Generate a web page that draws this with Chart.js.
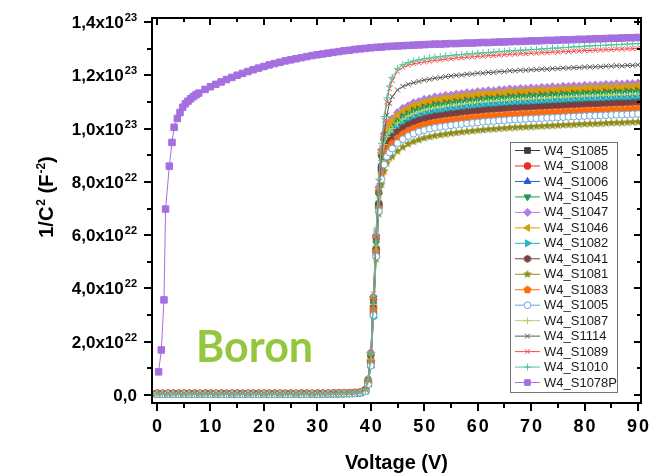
<!DOCTYPE html>
<html>
<head>
<meta charset="utf-8">
<script src="https://cdn.jsdelivr.net/npm/chart.js@4.4.1/dist/chart.umd.min.js"></script>
<style>
  html, body { margin: 0; padding: 0; background: #fff; }
  #wrap { position: relative; width: 656px; height: 473px; }
</style>
</head>
<body>
<div id="wrap"><canvas id="cvChart"></canvas></div>
<script>
// ============ C-V DATA (1/C^2 in units of 1e22 F^-2) ============
const voltage = [0,1,2,3,4,5,6,7,8,9,10,11,12,13,14,15,16,17,18,19,
  20,21,22,23,24,25,26,27,28,29,30,31,32,33,34,35,36,37,38,39,
  39.5,40,40.5,41,41.5,42,42.5,43,43.5,
  44,45,46,47,48,49,50,51,52,53,54,55,56,57,58,59,60,61,62,63,64,65,66,67,
  68,69,70,71,72,73,74,75,76,77,78,79,80,81,82,83,84,85,86,87,88,89,90];

const voltageP = [0.3,0.8,1.3,1.6,2.3,2.8,3.2,3.8,4.3,4.8,5.3,5.8,6.3,6.8,7.3,7.8,
  9,10,11,12,13,14,15,16,17,18,19,20,
  21,22,23,24,25,26,27,28,29,30,31,32,33,34,35,36,37,38,39,40,
  41,42,43,44,45,46,47,48,49,50,51,52,53,54,55,56,57,58,59,60,
  61,62,63,64,65,66,67,68,69,70,71,72,73,74,75,76,77,78,79,80,81,82,83,84,85,86,87,88,89,90];

const s1085 = [0.05,0.04,0.05,0.05,0.04,0.05,0.04,0.05,0.05,0.04,0.05,0.04,0.05,0.05,0.04,0.05,0.04,0.05,0.05,0.04,
  0.05,0.04,0.05,0.05,0.04,0.05,0.05,0.04,0.05,0.05,0.04,0.05,0.05,0.05,0.06,0.06,0.06,0.07,0.09,0.16,
  0.45,1.2,3.1,5.4,7.1,8.5,9.1,9.4,9.6,
  9.76,9.95,10.1,10.23,10.3,10.39,10.43,10.5,10.52,10.57,10.58,10.63,10.63,10.68,10.68,10.72,10.72,10.76,10.76,10.79,10.79,10.82,10.82,10.85,
  10.84,10.87,10.86,10.89,10.89,10.91,10.91,10.93,10.93,10.95,10.95,10.97,10.96,10.99,10.98,11.0,11.0,11.02,11.01,11.03,11.03,11.05,11.05];
const s1008 = [0.06,0.05,0.06,0.05,0.06,0.06,0.05,0.06,0.05,0.06,0.06,0.05,0.06,0.05,0.06,0.06,0.05,0.06,0.05,0.06,
  0.06,0.05,0.06,0.06,0.05,0.06,0.05,0.06,0.06,0.05,0.06,0.06,0.06,0.07,0.07,0.07,0.08,0.09,0.11,0.2,
  0.55,1.5,3.6,5.9,7.6,9.0,9.6,9.95,10.12,
  10.25,10.46,10.6,10.73,10.8,10.9,10.93,11.0,11.02,11.07,11.08,11.13,11.13,11.18,11.2,11.21,11.24,11.25,11.28,11.28,11.31,11.31,11.34,11.34,
  11.36,11.36,11.38,11.38,11.4,11.4,11.42,11.42,11.44,11.44,11.46,11.46,11.48,11.48,11.49,11.49,11.51,11.51,11.53,11.52,11.54,11.54,11.56];
const s1006 = [0.03,0.04,0.03,0.03,0.04,0.03,0.03,0.04,0.03,0.03,0.04,0.03,0.03,0.04,0.03,0.03,0.04,0.03,0.03,0.04,
  0.03,0.03,0.04,0.03,0.03,0.04,0.03,0.03,0.04,0.03,0.03,0.04,0.04,0.04,0.05,0.05,0.06,0.06,0.08,0.13,
  0.4,1.1,3.0,5.3,7.2,8.7,9.3,9.6,9.8,
  9.9,10.1,10.26,10.36,10.47,10.52,10.6,10.63,10.69,10.7,10.75,10.76,10.8,10.81,10.85,10.86,10.89,10.9,10.93,10.93,10.96,10.96,10.99,10.99,
  11.01,11.01,11.03,11.03,11.05,11.05,11.07,11.07,11.09,11.09,11.11,11.11,11.13,11.13,11.14,11.14,11.16,11.16,11.18,11.17,11.19,11.19,11.21];
const s1045 = [0.04,0.05,0.04,0.04,0.05,0.04,0.04,0.05,0.04,0.04,0.05,0.04,0.04,0.05,0.04,0.04,0.05,0.04,0.04,0.05,
  0.04,0.04,0.05,0.04,0.04,0.05,0.04,0.04,0.05,0.04,0.04,0.05,0.05,0.05,0.06,0.06,0.07,0.08,0.1,0.18,
  0.5,1.4,3.4,5.7,7.5,8.9,9.5,9.85,10.0,
  10.1,10.3,10.46,10.56,10.67,10.72,10.8,10.83,10.89,10.9,10.95,10.96,11.0,11.01,11.05,11.06,11.09,11.1,11.13,11.13,11.16,11.16,11.19,11.19,
  11.21,11.21,11.23,11.23,11.25,11.25,11.27,11.27,11.29,11.29,11.31,11.31,11.33,11.33,11.34,11.34,11.36,11.36,11.38,11.37,11.39,11.39,11.41];
const s1047 = [0.05,0.06,0.05,0.05,0.06,0.05,0.05,0.06,0.05,0.05,0.06,0.05,0.05,0.06,0.05,0.05,0.06,0.05,0.05,0.06,
  0.05,0.05,0.06,0.05,0.05,0.06,0.05,0.05,0.06,0.05,0.05,0.06,0.06,0.06,0.07,0.07,0.08,0.09,0.11,0.2,
  0.6,1.6,3.7,6.0,7.8,9.2,9.8,10.1,10.25,
  10.38,10.6,10.76,10.86,10.97,11.02,11.1,11.13,11.19,11.2,11.25,11.26,11.3,11.31,11.35,11.35,11.39,11.4,11.43,11.42,11.46,11.46,11.49,11.48,
  11.51,11.5,11.53,11.52,11.55,11.55,11.57,11.56,11.59,11.59,11.61,11.6,11.63,11.62,11.64,11.64,11.66,11.65,11.68,11.67,11.69,11.69,11.71];
const s1046 = [0.07,0.06,0.07,0.06,0.07,0.07,0.06,0.07,0.06,0.07,0.07,0.06,0.07,0.06,0.07,0.07,0.06,0.07,0.06,0.07,
  0.07,0.06,0.07,0.07,0.06,0.07,0.06,0.07,0.07,0.06,0.07,0.07,0.07,0.08,0.08,0.08,0.09,0.1,0.12,0.22,
  0.58,1.55,3.65,5.95,7.7,9.1,9.7,10.0,10.2,
  10.32,10.5,10.67,10.76,10.88,10.92,11.01,11.03,11.1,11.1,11.16,11.16,11.21,11.21,11.26,11.25,11.3,11.3,11.34,11.32,11.37,11.35,11.4,11.38,
  11.42,11.4,11.44,11.42,11.46,11.44,11.48,11.46,11.5,11.48,11.52,11.5,11.54,11.52,11.55,11.53,11.57,11.55,11.59,11.56,11.6,11.58,11.62];
const s1082 = [0.02,0.03,0.02,0.02,0.03,0.02,0.02,0.03,0.02,0.02,0.03,0.02,0.02,0.03,0.02,0.02,0.03,0.02,0.02,0.03,
  0.02,0.02,0.03,0.02,0.02,0.03,0.02,0.02,0.03,0.02,0.02,0.03,0.03,0.03,0.04,0.04,0.05,0.05,0.07,0.12,
  0.38,1.05,2.9,5.2,7.1,8.6,9.25,9.55,9.75,
  9.85,10.05,10.21,10.31,10.42,10.47,10.55,10.58,10.64,10.65,10.7,10.71,10.75,10.76,10.8,10.81,10.84,10.85,10.88,10.88,10.91,10.91,10.94,10.94,
  10.96,10.96,10.98,10.98,11.0,11.0,11.02,11.02,11.04,11.04,11.06,11.06,11.08,11.08,11.09,11.09,11.11,11.11,11.13,11.12,11.14,11.14,11.16];
const s1041 = [0.06,0.05,0.05,0.06,0.05,0.05,0.06,0.05,0.05,0.06,0.05,0.05,0.06,0.05,0.05,0.06,0.05,0.05,0.06,0.05,
  0.05,0.06,0.05,0.05,0.06,0.05,0.05,0.06,0.05,0.05,0.06,0.05,0.06,0.06,0.06,0.07,0.07,0.08,0.1,0.17,
  0.48,1.3,3.3,5.5,7.2,8.5,9.05,9.35,9.55,
  9.68,9.88,10.03,10.15,10.24,10.31,10.37,10.42,10.46,10.49,10.52,10.55,10.57,10.6,10.62,10.64,10.66,10.68,10.7,10.71,10.73,10.74,10.76,10.77,
  10.78,10.79,10.8,10.81,10.82,10.83,10.84,10.85,10.86,10.87,10.88,10.89,10.9,10.91,10.91,10.92,10.93,10.94,10.95,10.95,10.96,10.97,10.98];
const s1081 = [0.04,0.04,0.05,0.04,0.04,0.05,0.04,0.04,0.05,0.04,0.04,0.05,0.04,0.04,0.05,0.04,0.04,0.05,0.04,0.04,
  0.05,0.04,0.04,0.05,0.04,0.04,0.05,0.04,0.04,0.05,0.04,0.05,0.05,0.05,0.06,0.06,0.06,0.07,0.09,0.15,
  0.42,1.15,3.0,5.1,6.8,7.9,8.4,8.7,8.9,
  8.95,9.15,9.3,9.42,9.51,9.58,9.64,9.69,9.73,9.76,9.79,9.82,9.84,9.87,9.89,9.91,9.93,9.95,9.97,9.98,10.0,10.01,10.03,10.04,
  10.05,10.06,10.07,10.08,10.09,10.1,10.11,10.12,10.13,10.14,10.15,10.16,10.17,10.18,10.18,10.19,10.2,10.21,10.22,10.22,10.23,10.24,10.25];
const s1083 = [0.05,0.05,0.06,0.05,0.05,0.06,0.05,0.05,0.06,0.05,0.05,0.06,0.05,0.05,0.06,0.05,0.05,0.06,0.05,0.05,
  0.06,0.05,0.05,0.06,0.05,0.05,0.06,0.05,0.05,0.06,0.05,0.06,0.06,0.06,0.07,0.07,0.07,0.08,0.1,0.17,
  0.46,1.25,3.2,5.4,7.0,8.3,8.85,9.15,9.3,
  9.45,9.65,9.8,9.92,10.01,10.08,10.14,10.19,10.23,10.26,10.29,10.32,10.34,10.37,10.39,10.41,10.43,10.45,10.47,10.48,10.5,10.51,10.53,10.54,
  10.55,10.56,10.57,10.58,10.59,10.6,10.61,10.62,10.63,10.64,10.65,10.66,10.67,10.68,10.68,10.69,10.7,10.71,10.72,10.72,10.73,10.74,10.75];
const s1005 = [0.03,0.03,0.04,0.03,0.03,0.04,0.03,0.03,0.04,0.03,0.03,0.04,0.03,0.03,0.04,0.03,0.03,0.04,0.03,0.03,
  0.04,0.03,0.03,0.04,0.03,0.03,0.04,0.03,0.03,0.04,0.03,0.04,0.04,0.04,0.05,0.05,0.05,0.06,0.08,0.14,
  0.4,1.1,3.0,5.2,6.9,8.1,8.65,8.95,9.1,
  9.25,9.45,9.6,9.72,9.81,9.88,9.94,9.99,10.03,10.06,10.09,10.12,10.14,10.17,10.19,10.21,10.23,10.25,10.27,10.28,10.3,10.31,10.33,10.34,
  10.35,10.36,10.37,10.38,10.39,10.4,10.41,10.42,10.43,10.44,10.45,10.46,10.47,10.48,10.48,10.49,10.5,10.51,10.52,10.52,10.53,10.54,10.55];
const s1087 = [0.05,0.05,0.05,0.06,0.05,0.05,0.05,0.06,0.05,0.05,0.05,0.06,0.05,0.05,0.05,0.06,0.05,0.05,0.05,0.06,
  0.05,0.05,0.05,0.06,0.05,0.05,0.05,0.06,0.05,0.05,0.05,0.06,0.06,0.06,0.06,0.07,0.07,0.08,0.1,0.18,
  0.5,1.35,3.4,5.6,7.4,8.8,9.4,9.7,9.9,
  10.0,10.2,10.35,10.47,10.56,10.63,10.69,10.74,10.78,10.81,10.84,10.87,10.89,10.92,10.94,10.96,10.98,11.0,11.02,11.03,11.05,11.06,11.08,11.09,
  11.1,11.11,11.12,11.13,11.14,11.15,11.16,11.17,11.18,11.19,11.2,11.21,11.22,11.23,11.23,11.24,11.25,11.26,11.27,11.27,11.28,11.29,11.3];
const s1114 = [0.06,0.06,0.05,0.06,0.06,0.05,0.06,0.06,0.05,0.06,0.06,0.05,0.06,0.06,0.05,0.06,0.06,0.05,0.06,0.06,
  0.05,0.06,0.06,0.05,0.06,0.06,0.05,0.06,0.06,0.05,0.06,0.06,0.06,0.07,0.07,0.07,0.08,0.09,0.11,0.2,
  0.55,1.5,3.6,5.9,7.6,8.9,9.8,10.5,10.95,
  11.2,11.45,11.58,11.66,11.72,11.77,11.82,11.85,11.89,11.91,11.95,11.97,12.0,12.01,12.04,12.05,12.08,12.08,12.11,12.11,12.14,12.14,12.17,12.17,
  12.19,12.19,12.21,12.21,12.23,12.23,12.25,12.25,12.27,12.27,12.29,12.29,12.31,12.31,12.32,12.32,12.34,12.34,12.36,12.35,12.37,12.37,12.39];
const s1089 = [0.07,0.07,0.06,0.07,0.07,0.06,0.07,0.07,0.06,0.07,0.07,0.06,0.07,0.07,0.06,0.07,0.07,0.06,0.07,0.07,
  0.06,0.07,0.07,0.06,0.07,0.07,0.06,0.07,0.07,0.06,0.07,0.07,0.07,0.08,0.08,0.08,0.09,0.1,0.12,0.22,
  0.6,1.6,3.8,6.2,8.0,9.3,10.3,11.0,11.5,
  11.8,12.15,12.3,12.38,12.43,12.47,12.5,12.53,12.56,12.58,12.61,12.62,12.65,12.66,12.68,12.69,12.71,12.72,12.74,12.74,12.76,12.77,12.79,12.79,
  12.81,12.81,12.83,12.83,12.85,12.85,12.87,12.87,12.89,12.89,12.91,12.91,12.93,12.93,12.94,12.95,12.96,12.96,12.98,12.98,12.99,13.0,13.01];
const s1010 = [0.04,0.04,0.04,0.05,0.04,0.04,0.04,0.05,0.04,0.04,0.04,0.05,0.04,0.04,0.04,0.05,0.04,0.04,0.04,0.05,
  0.04,0.04,0.04,0.05,0.04,0.04,0.04,0.05,0.04,0.04,0.04,0.05,0.05,0.05,0.06,0.06,0.07,0.08,0.1,0.2,
  0.58,1.55,3.75,6.2,8.1,9.45,10.45,11.15,11.6,
  11.92,12.25,12.4,12.48,12.54,12.58,12.62,12.65,12.68,12.7,12.73,12.74,12.77,12.78,12.8,12.81,12.83,12.84,12.86,12.87,12.89,12.9,12.92,12.92,
  12.94,12.95,12.97,12.97,12.99,13.0,13.02,13.02,13.04,13.05,13.07,13.07,13.09,13.1,13.11,13.12,13.13,13.14,13.15,13.16,13.17,13.18,13.19];
const s1078P = [0.87,1.69,3.57,6.98,8.59,9.48,10.05,10.38,10.6,10.8,10.93,11.03,11.12,11.2,11.27,11.33,
  11.47,11.57,11.66,11.75,11.84,11.92,12.0,12.07,12.14,12.21,12.27,12.33,
  12.39,12.44,12.49,12.54,12.58,12.62,12.66,12.7,12.74,12.77,12.8,12.83,12.86,12.89,12.92,12.94,12.97,12.99,13.01,13.03,
  13.05,13.06,13.08,13.09,13.1,13.11,13.12,13.13,13.14,13.15,13.16,13.17,13.17,13.18,13.19,13.19,13.2,13.21,13.21,13.22,
  13.23,13.23,13.24,13.25,13.25,13.26,13.27,13.27,13.28,13.29,13.29,13.3,13.31,13.31,13.32,13.33,13.33,13.34,13.35,13.35,13.36,13.37,13.37,13.38,13.39,13.39,13.4,13.41,13.41,13.42];

const sampleNames = ['W4_S1085','W4_S1008','W4_S1006','W4_S1045','W4_S1047','W4_S1046','W4_S1082','W4_S1041',
  'W4_S1081','W4_S1083','W4_S1005','W4_S1087','W4_S1114','W4_S1089','W4_S1010','W4_S1078P'];
const sampleValues = [s1085,s1008,s1006,s1045,s1047,s1046,s1082,s1041,s1081,s1083,s1005,s1087,s1114,s1089,s1010,s1078P];

// axis ticks / labels
const xMajorTicks = [0,10,20,30,40,50,60,70,80,90];
const xMinorTicks = [5,15,25,35,45,55,65,75,85];
const xTickLabels = ['0','10','20','30','40','50','60','70','80','90'];
const yMajorTicks = [0,2,4,6,8,10,12,14];
const yMinorTicks = [1,3,5,7,9,11,13];
const yTickMantissa = ['0,0','2,0x10','4,0x10','6,0x10','8,0x10','1,0x10','1,2x10','1,4x10'];
const yTickExponent = ['','22','22','22','22','23','23','23'];
const xTitle = 'Voltage (V)';
const yTitleParts = [['1/C', false], ['2', true], [' (F', false], ['-2', true], [')', false]];
const annotationText = 'Boron';

// ============ STYLES ============
function shapeMarker(color, r, sides, inner) {
  const c = document.createElement('canvas');
  const s = Math.ceil(r * 2 + 2);
  c.width = s; c.height = s;
  const g = c.getContext('2d');
  const n = inner ? sides * 2 : sides;
  g.beginPath();
  for (let k = 0; k < n; k++) {
    const ang = -Math.PI / 2 + k * Math.PI * 2 / n;
    const rr = inner && k % 2 ? r * inner : r;
    const px = s / 2 + rr * Math.cos(ang), py = s / 2 + rr * Math.sin(ang);
    if (k) g.lineTo(px, py); else g.moveTo(px, py);
  }
  g.closePath();
  g.fillStyle = color;
  g.fill();
  return c;
}

const seriesColors = ['#3d3d3d','#e8302a','#2a5bd7','#1f9b55','#b07fe6','#d4a20a','#1fb7c9','#7b3f3f',
  '#8c8c1e','#ff6a0a','#6aa6e0','#b5d36b','#5a5a5a','#ff4a4a','#4cc79a','#a66fe0'];
const markerDefs = [
  { style: 'rect', r: 4.4 },
  { style: 'circle', r: 3.4 },
  { style: 'triangle', r: 4 },
  { style: 'triangle', r: 4, rot: 180 },
  { style: 'rectRot', r: 4 },
  { style: 'triangle', r: 4, rot: 270 },
  { style: 'triangle', r: 4, rot: 90 },
  { style: shapeMarker('#7b3f3f', 4, 6), r: 4 },
  { style: shapeMarker('#8c8c1e', 4.6, 5, 0.45), r: 4.6 },
  { style: shapeMarker('#ff6a0a', 4.3, 5), r: 4.3 },
  { style: 'circle', r: 3.4, hollow: true },
  { style: 'cross', r: 3.5 },
  { style: 'crossRot', r: 3.5 },
  { style: 'crossRot', r: 3.5 },
  { style: 'cross', r: 3.5 },
  { style: 'rect', r: 4.6 }
];

const datasets = sampleNames.map((name, i) => {
  const xs = name === 'W4_S1078P' ? voltageP : voltage;
  const m = markerDefs[i];
  return {
    label: name,
    data: sampleValues[i].map((v, k) => ({ x: xs[k], y: v })),
    showLine: true,
    borderColor: seriesColors[i],
    backgroundColor: seriesColors[i],
    borderWidth: 1,
    pointStyle: m.style,
    pointRotation: m.rot || 0,
    pointRadius: m.r,
    pointBorderWidth: 1,
    pointBorderColor: seriesColors[i],
    pointBackgroundColor: m.hollow ? '#ffffff' : seriesColors[i],
    order: sampleNames.length - i
  };
});

// ============ FRAME, TICKS, TEXT, LEGEND ============
const decorations = {
  id: 'decorations',
  afterDatasetsDraw(chart) {
    const { ctx, chartArea: a, scales: { x, y } } = chart;
    ctx.save();
    ctx.strokeStyle = '#000';
    ctx.fillStyle = '#000';

    // frame
    ctx.lineWidth = 2;
    ctx.strokeRect(a.left, a.top, a.right - a.left, a.bottom - a.top);

    // ticks
    ctx.beginPath();
    xMajorTicks.forEach(v => {
      const px = Math.round(x.getPixelForValue(v));
      ctx.moveTo(px, a.bottom); ctx.lineTo(px, a.bottom + 8);
      ctx.moveTo(px, a.top); ctx.lineTo(px, a.top + 7);
    });
    xMinorTicks.forEach(v => {
      const px = Math.round(x.getPixelForValue(v));
      ctx.moveTo(px, a.bottom); ctx.lineTo(px, a.bottom + 5);
      ctx.moveTo(px, a.top); ctx.lineTo(px, a.top + 4);
    });
    yMajorTicks.forEach(v => {
      const py = Math.round(y.getPixelForValue(v));
      ctx.moveTo(a.left - 8, py); ctx.lineTo(a.left, py);
      ctx.moveTo(a.right - 7, py); ctx.lineTo(a.right, py);
    });
    yMinorTicks.forEach(v => {
      const py = Math.round(y.getPixelForValue(v));
      ctx.moveTo(a.left - 5, py); ctx.lineTo(a.left, py);
      ctx.moveTo(a.right - 4, py); ctx.lineTo(a.right, py);
    });
    ctx.stroke();

    // x tick labels
    ctx.font = 'bold 18px "Liberation Sans", Arial, sans-serif';
    ctx.textAlign = 'center';
    ctx.textBaseline = 'alphabetic';
    if ('letterSpacing' in ctx) ctx.letterSpacing = '2px';
    xMajorTicks.forEach((v, i) => {
      ctx.fillText(xTickLabels[i], x.getPixelForValue(v) + 1, 432);
    });
    if ('letterSpacing' in ctx) ctx.letterSpacing = '0px';

    // y tick labels with superscript exponent
    const rightEdge = 137;
    ctx.textAlign = 'left';
    yMajorTicks.forEach((v, i) => {
      const py = y.getPixelForValue(v);
      ctx.font = 'bold 11px "Liberation Sans", Arial, sans-serif';
      const ew = yTickExponent[i] ? ctx.measureText(yTickExponent[i]).width + 1 : 0;
      ctx.font = 'bold 17px "Liberation Sans", Arial, sans-serif';
      const mw = ctx.measureText(yTickMantissa[i]).width;
      ctx.fillText(yTickMantissa[i], rightEdge - ew - mw, py + 6);
      if (yTickExponent[i]) {
        ctx.font = 'bold 11px "Liberation Sans", Arial, sans-serif';
        ctx.fillText(yTickExponent[i], rightEdge - ew + 1, py - 1);
      }
    });

    // x title
    ctx.font = 'bold 20px "Liberation Sans", Arial, sans-serif';
    ctx.textAlign = 'center';
    ctx.fillText(xTitle, (a.left + a.right) / 2, 469);

    // y title (rotated, with superscripts)
    ctx.save();
    ctx.translate(53, 197);
    ctx.rotate(-Math.PI / 2);
    ctx.textAlign = 'left';
    const bigF = 'bold 20px "Liberation Sans", Arial, sans-serif';
    const supF = 'bold 12px "Liberation Sans", Arial, sans-serif';
    let total = 0;
    yTitleParts.forEach(([t, sup]) => { ctx.font = sup ? supF : bigF; total += ctx.measureText(t).width + (sup ? 1 : 0); });
    let cx = -total / 2;
    yTitleParts.forEach(([t, sup]) => {
      ctx.font = sup ? supF : bigF;
      ctx.fillText(t, cx + (sup ? 1 : 0), sup ? -8 : 0);
      cx += ctx.measureText(t).width + (sup ? 1 : 0);
    });
    ctx.restore();

    // annotation
    ctx.font = 'bold 43px Lato, "Liberation Sans", sans-serif';
    ctx.fillStyle = '#94c73d';
    ctx.textAlign = 'left';
    ctx.fillText(annotationText, 196, 362);

    // legend box
    const lg = { left: 510, top: 142, right: 617, bottom: 392, first: 150.5, step: 15.47 };
    ctx.fillStyle = '#ffffff';
    ctx.fillRect(lg.left, lg.top, lg.right - lg.left, lg.bottom - lg.top);
    ctx.strokeStyle = '#777';
    ctx.lineWidth = 1;
    ctx.strokeRect(lg.left + 0.5, lg.top + 0.5, lg.right - lg.left, lg.bottom - lg.top);
    ctx.font = '13px "Liberation Sans", Arial, sans-serif';
    ctx.textBaseline = 'middle';
    chart.data.datasets.forEach((ds, i) => {
      const ly = lg.first + i * lg.step;
      ctx.strokeStyle = ds.borderColor;
      ctx.lineWidth = 1;
      ctx.beginPath();
      ctx.moveTo(515, ly); ctx.lineTo(540, ly);
      ctx.stroke();
      ctx.fillStyle = ds.pointBackgroundColor;
      ctx.strokeStyle = ds.pointBorderColor;
      if (Chart.helpers && Chart.helpers.drawPoint) {
        Chart.helpers.drawPoint(ctx, { pointStyle: ds.pointStyle, rotation: ds.pointRotation, radius: Math.min(ds.pointRadius, 4), borderWidth: 1 }, 527.5, ly);
      }
      ctx.fillStyle = '#1a1a1a';
      ctx.fillText(ds.label, 544, ly + 0.5);
    });
    ctx.restore();
  }
};

new Chart(document.getElementById('cvChart'), {
  type: 'scatter',
  data: { datasets },
  options: {
    responsive: true,
    maintainAspectRatio: false,
    animation: false,
    layout: { padding: { left: 152, right: 15, top: 18, bottom: 70 } },
    plugins: { legend: { display: false }, tooltip: { enabled: false } },
    scales: {
      x: { type: 'linear', min: -0.94, max: 90.56, display: false },
      y: { type: 'linear', min: -0.3, max: 14.15, display: false }
    }
  },
  plugins: [decorations]
});
</script>
</body>
</html>
